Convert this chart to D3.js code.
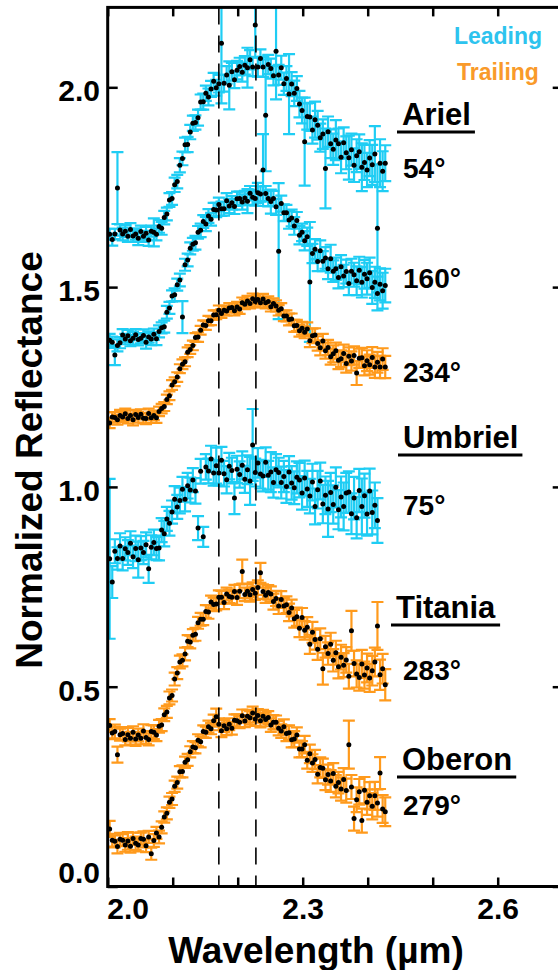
<!DOCTYPE html>
<html>
<head>
<meta charset="utf-8">
<title>Uranian moons 2.2 µm band</title>
<script src="https://cdn.jsdelivr.net/npm/d3@7"></script>
<style>
  body { margin: 0; background: #fff; }
  svg text { font-family: "Liberation Sans", Arial, sans-serif; font-weight: bold; }
</style>
</head>
<body>
<div id="chart"></div>
<script>
// wavelength grid (µm), shared by every spectrum
const wavelength = [
  2.003,2.007,2.011,2.015,2.019,2.023,2.027,2.031,2.035,2.039,
  2.043,2.047,2.051,2.055,2.059,2.063,2.067,2.071,2.075,2.079,
  2.083,2.087,2.091,2.095,2.099,2.103,2.107,2.111,2.115,2.119,
  2.123,2.127,2.131,2.135,2.139,2.143,2.147,2.151,2.155,2.159,
  2.163,2.167,2.171,2.175,2.179,2.183,2.187,2.191,2.195,2.199,
  2.203,2.207,2.211,2.215,2.219,2.223,2.227,2.231,2.235,2.239,
  2.243,2.247,2.251,2.255,2.259,2.263,2.267,2.271,2.275,2.279,
  2.283,2.287,2.291,2.295,2.299,2.303,2.307,2.311,2.315,2.319,
  2.323,2.327,2.331,2.335,2.339,2.343,2.347,2.351,2.355,2.359,
  2.363,2.367,2.371,2.375,2.379,2.383,2.387,2.391,2.395,2.399,
  2.403,2.407,2.411,2.415,2.419,2.423,2.427
];

// Ariel, 54° (leading)
const ariel54 = [
  1.632,1.619,1.633,1.748,1.643,1.633,1.640,1.627,1.644,1.628,
  1.633,1.622,1.639,1.627,1.635,1.618,1.640,1.637,1.632,1.652,
  1.647,1.674,1.683,1.718,1.722,1.756,1.764,1.805,1.822,1.856,
  1.857,1.888,1.910,1.912,1.924,1.963,1.964,1.985,1.976,1.996,
  2.015,1.999,2.009,2.110,2.010,2.031,2.005,2.039,2.019,2.043,
  2.052,2.038,2.055,2.049,2.069,2.051,2.156,2.051,2.072,2.051,
  1.930,2.057,2.047,2.029,2.090,2.031,2.049,2.009,2.022,1.983,
  2.008,1.985,1.997,1.958,1.942,1.864,1.927,1.926,1.893,1.919,
  1.905,1.874,1.883,1.797,1.889,1.859,1.845,1.868,1.859,1.825,
  1.861,1.836,1.824,1.844,1.805,1.829,1.839,1.800,1.812,1.793,
  1.823,1.806,1.833,1.647,1.810,1.790,1.810
];
const ariel54Err = [
  .014,.015,.013,.090,.014,.016,.015,.014,.016,.015,
  .014,.017,.015,.014,.016,.015,.014,.035,.015,.016,
  .016,.017,.016,.017,.016,.018,.017,.018,.017,.018,
  .019,.018,.019,.018,.020,.019,.020,.019,.021,.020,
  .021,.020,.022,.150,.021,.022,.060,.022,.021,.023,
  .022,.024,.023,.050,.024,.023,.080,.024,.023,.025,
  .140,.024,.025,.024,.120,.025,.030,.028,.031,.100,
  .030,.032,.031,.033,.032,.110,.033,.035,.034,.045,
  .036,.035,.037,.100,.038,.036,.039,.050,.038,.040,
  .039,.041,.055,.040,.042,.041,.043,.060,.044,.043,
  .045,.050,.070,.160,.060,.050,.045
];

// Ariel, 160° (leading)
const ariel160 = [
  1.367,1.362,1.330,1.354,1.361,1.380,1.370,1.378,1.366,1.372,
  1.381,1.369,1.372,1.379,1.362,1.375,1.370,1.382,1.371,1.389,
  1.398,1.401,1.437,1.448,1.478,1.481,1.506,1.518,1.425,1.556,
  1.568,1.597,1.607,1.611,1.637,1.642,1.664,1.658,1.678,1.670,
  1.694,1.693,1.707,1.696,1.696,1.716,1.703,1.711,1.702,1.721,
  1.722,1.713,1.723,1.715,1.735,1.725,1.722,1.736,1.733,1.793,
  1.734,1.722,1.714,1.722,1.701,1.590,1.709,1.686,1.686,1.668,
  1.673,1.653,1.667,1.630,1.637,1.616,1.626,1.513,1.584,1.595,
  1.564,1.591,1.565,1.573,1.546,1.571,1.540,1.546,1.524,1.551,
  1.528,1.539,1.509,1.540,1.531,1.516,1.542,1.512,1.532,1.521,
  1.536,1.499,1.512,1.484,1.507,1.491,1.504
];
const ariel160Err = [
  .016,.014,.025,.015,.014,.015,.013,.015,.014,.016,
  .014,.015,.013,.015,.016,.014,.015,.014,.016,.015,
  .014,.015,.016,.015,.014,.016,.015,.016,.040,.015,
  .016,.015,.016,.017,.016,.017,.016,.018,.017,.016,
  .017,.018,.017,.018,.017,.019,.018,.017,.019,.018,
  .017,.019,.018,.030,.018,.019,.018,.025,.019,.090,
  .019,.020,.030,.019,.020,.170,.020,.021,.020,.022,
  .021,.022,.021,.023,.022,.024,.023,.150,.024,.025,
  .024,.026,.025,.027,.026,.035,.027,.028,.027,.029,
  .028,.030,.029,.031,.030,.036,.034,.038,.036,.040,
  .038,.041,.039,.042,.040,.045,.042
];

// Ariel, 234° (trailing)
const ariel234 = [
  1.160,1.175,1.174,1.168,1.179,1.175,1.183,1.171,1.179,1.168,
  1.181,1.174,1.182,1.172,1.171,1.184,1.173,1.179,1.173,1.189,
  1.196,1.201,1.219,1.228,1.255,1.263,1.275,1.296,1.307,1.313,
  1.337,1.344,1.354,1.374,1.375,1.392,1.405,1.404,1.416,1.416,
  1.430,1.431,1.442,1.434,1.442,1.440,1.448,1.449,1.441,1.450,
  1.445,1.461,1.457,1.465,1.459,1.471,1.464,1.469,1.461,1.470,
  1.461,1.464,1.451,1.459,1.453,1.442,1.446,1.428,1.428,1.419,
  1.420,1.403,1.404,1.391,1.397,1.387,1.395,1.366,1.378,1.380,
  1.359,1.348,1.365,1.341,1.349,1.326,1.333,1.341,1.317,1.321,
  1.334,1.309,1.327,1.315,1.329,1.285,1.322,1.323,1.303,1.316,
  1.306,1.324,1.300,1.312,1.300,1.320,1.300
];
const ariel234Err = [
  .013,.012,.013,.012,.014,.012,.013,.012,.013,.014,
  .012,.013,.012,.013,.014,.012,.013,.012,.013,.012,
  .012,.011,.012,.011,.012,.011,.012,.011,.012,.011,
  .012,.011,.012,.011,.012,.011,.012,.011,.012,.011,
  .012,.011,.012,.011,.012,.011,.012,.011,.012,.013,
  .012,.013,.012,.013,.012,.013,.014,.013,.012,.013,
  .014,.013,.012,.013,.014,.013,.014,.013,.014,.015,
  .014,.015,.014,.015,.016,.015,.017,.016,.018,.017,
  .018,.019,.018,.020,.019,.020,.021,.020,.022,.021,
  .022,.023,.022,.024,.023,.030,.024,.025,.024,.026,
  .025,.026,.027,.026,.028,.027,.028
];

// Umbriel, 75° (leading)
const umbriel75 = [
  0.820,0.762,0.839,0.821,0.852,0.821,0.845,0.836,0.859,0.825,
  0.846,0.818,0.847,0.836,0.855,0.795,0.849,0.861,0.846,0.847,
  0.892,0.883,0.920,0.909,0.937,0.969,0.950,0.966,0.994,0.969,
  1.003,0.992,1.017,0.990,0.897,1.039,0.875,1.050,1.040,1.070,
  1.035,1.053,1.035,1.067,1.033,1.018,1.052,1.041,0.972,1.044,
  1.031,1.054,1.019,1.043,1.015,1.105,1.036,1.060,1.032,1.027,
  1.062,1.029,1.037,1.011,1.043,1.036,1.011,1.026,1.001,1.037,
  1.010,0.998,1.024,1.017,0.985,1.022,0.995,0.977,1.012,0.951,
  0.993,1.015,0.957,0.979,0.945,0.986,0.956,0.999,0.943,0.975,
  0.951,0.985,0.987,0.933,0.972,0.923,0.991,0.951,0.978,0.932,
  0.990,0.936,0.954,0.916
];
const umbriel75Err = [
  .200,.040,.030,.028,.032,.030,.029,.031,.030,.028,
  .032,.045,.030,.029,.031,.035,.030,.032,.029,.031,
  .030,.032,.030,.031,.029,.033,.030,.032,.031,.030,
  .032,.031,.030,.032,.030,.031,.025,.032,.031,.033,
  .032,.045,.031,.033,.032,.034,.033,.032,.040,.034,
  .033,.035,.034,.036,.060,.090,.035,.037,.036,.038,
  .037,.036,.050,.038,.039,.037,.040,.039,.041,.040,
  .042,.041,.040,.043,.042,.044,.045,.043,.046,.045,
  .047,.046,.048,.047,.070,.049,.048,.050,.049,.051,
  .060,.050,.052,.051,.053,.052,.054,.070,.055,.054,
  .056,.055,.057,.056
];

// Titania, 283° (trailing)
const titania283 = [
  0.403,0.384,0.388,0.330,0.380,0.383,0.368,0.380,0.371,0.386,
  0.369,0.379,0.371,0.389,0.373,0.368,0.388,0.386,0.379,0.401,
  0.404,0.430,0.437,0.472,0.478,0.519,0.534,0.562,0.566,0.582,
  0.614,0.612,0.629,0.631,0.660,0.669,0.669,0.688,0.687,0.712,
  0.706,0.707,0.724,0.724,0.711,0.732,0.726,0.724,0.738,0.723,
  0.739,0.788,0.731,0.739,0.730,0.743,0.734,0.748,0.785,0.738,
  0.729,0.736,0.732,0.713,0.721,0.702,0.718,0.702,0.705,0.686,
  0.697,0.670,0.675,0.646,0.673,0.641,0.649,0.606,0.636,0.618,
  0.594,0.620,0.545,0.600,0.583,0.606,0.566,0.585,0.550,0.574,
  0.554,0.567,0.526,0.640,0.558,0.532,0.523,0.557,0.529,0.547,
  0.522,0.540,0.562,0.652,0.530,0.545,0.505
];
const titania283Err = [
  .016,.015,.017,.020,.015,.016,.015,.017,.016,.015,
  .017,.016,.015,.017,.016,.015,.016,.017,.015,.016,
  .015,.016,.015,.016,.015,.016,.015,.016,.015,.016,
  .015,.016,.015,.016,.015,.016,.015,.016,.017,.016,
  .017,.016,.017,.016,.017,.016,.017,.016,.017,.018,
  .017,.030,.017,.018,.017,.018,.017,.018,.025,.018,
  .019,.018,.019,.020,.019,.020,.021,.020,.021,.022,
  .021,.022,.023,.022,.024,.023,.025,.024,.026,.025,
  .027,.026,.040,.027,.028,.029,.028,.030,.029,.031,
  .030,.032,.031,.050,.032,.034,.033,.035,.034,.036,
  .035,.037,.036,.060,.038,.037,.039
];

// Oberon, 279° (trailing)
const oberon279 = [
  0.144,0.116,0.113,0.100,0.118,0.116,0.104,0.114,0.101,0.120,
  0.108,0.104,0.120,0.118,0.102,0.124,0.082,0.115,0.134,0.124,
  0.148,0.174,0.183,0.211,0.219,0.251,0.260,0.287,0.288,0.311,
  0.317,0.337,0.349,0.347,0.366,0.362,0.388,0.386,0.400,0.395,
  0.415,0.425,0.406,0.390,0.402,0.395,0.406,0.396,0.416,0.415,
  0.411,0.427,0.414,0.426,0.422,0.434,0.419,0.428,0.415,0.426,
  0.418,0.423,0.404,0.411,0.411,0.396,0.389,0.400,0.383,0.385,
  0.367,0.369,0.379,0.344,0.344,0.355,0.316,0.332,0.309,0.318,
  0.281,0.298,0.296,0.267,0.280,0.264,0.283,0.251,0.260,0.244,
  0.268,0.240,0.355,0.249,0.170,0.217,0.237,0.165,0.241,0.211,
  0.227,0.201,0.227,0.209,0.284,0.194,0.187
];
const oberon279Err = [
  .020,.016,.015,.017,.016,.015,.017,.022,.016,.015,
  .017,.016,.015,.020,.016,.015,.015,.016,.015,.016,
  .015,.014,.015,.014,.015,.014,.015,.014,.015,.014,
  .015,.014,.015,.014,.015,.014,.015,.014,.015,.014,
  .015,.020,.015,.016,.015,.016,.015,.016,.015,.016,
  .015,.016,.015,.016,.017,.016,.017,.016,.017,.016,
  .017,.016,.017,.018,.017,.018,.017,.018,.019,.018,
  .019,.020,.019,.021,.020,.022,.021,.023,.022,.024,
  .023,.025,.024,.026,.025,.027,.026,.028,.027,.029,
  .028,.030,.060,.030,.030,.031,.032,.030,.033,.032,
  .034,.033,.035,.034,.040,.035,.036
];

const xTicks = [2.0, 2.1, 2.2, 2.3, 2.4, 2.5, 2.6, 2.7];
const xTickLabels = [2.0, 2.3, 2.6];
const yTicks = [0.0, 0.5, 1.0, 1.5, 2.0];
const bandCentres = [2.171, 2.228];

const moonNames = ["Ariel", "Umbriel", "Titania", "Oberon"];
const longitudeLabels = ["54°", "160°", "234°", "75°", "283°", "279°"];
const legendLabels = ["Leading", "Trailing"];

const spectra = [
  { side: "leading",  values: ariel54,    errors: ariel54Err },
  { side: "leading",  values: ariel160,   errors: ariel160Err },
  { side: "trailing", values: ariel234,   errors: ariel234Err },
  { side: "leading",  values: umbriel75,  errors: umbriel75Err },
  { side: "trailing", values: titania283, errors: titania283Err },
  { side: "trailing", values: oberon279,  errors: oberon279Err }
];

class SpectraChart {
  constructor(_config, _spectra) {
    this.config = {
      parentElement: _config.parentElement,
      containerWidth: _config.containerWidth || 558,
      containerHeight: _config.containerHeight || 970,
      plot: _config.plot || { left: 107.7, right: 562.7, top: 7.4, bottom: 886.5 },
      colors: { leading: "#1fcdf4", trailing: "#ff9a1c" },
      legendColors: { leading: "#2dc3ee", trailing: "#f99a2a" },
      capHalf: 6,
      dotRadius: 2.5
    };
    this.spectra = _spectra;
    this.initVis();
  }

  initVis() {
    let vis = this;
    const p = vis.config.plot;

    vis.svg = d3.select(vis.config.parentElement)
      .append("svg")
      .attr("width", vis.config.containerWidth)
      .attr("height", vis.config.containerHeight);

    vis.x = d3.scaleLinear().domain([2.0, 2.7]).range([p.left, p.right]);
    vis.y = d3.scaleLinear().domain([0, 2.2]).range([p.bottom, p.top]);

    vis.svg.append("defs").append("clipPath")
      .attr("id", "plot-clip")
      .append("rect")
      .attr("x", p.left)
      .attr("y", p.top)
      .attr("width", p.right - p.left)
      .attr("height", p.bottom - p.top);

    vis.chart = vis.svg.append("g").attr("clip-path", "url(#plot-clip)");

    // flatten spectra into points
    vis.points = vis.spectra.flatMap(s =>
      s.values.map((v, i) => ({ w: wavelength[i], v: v, e: s.errors[i], side: s.side }))
    );

    vis.renderVis();
  }

  renderVis() {
    let vis = this;
    const p = vis.config.plot;
    const c = vis.config.capHalf;

    // error bars
    vis.chart.append("g")
      .selectAll("path.err")
      .data(vis.points)
      .join("path")
      .attr("class", "err")
      .attr("fill", "none")
      .attr("stroke", d => vis.config.colors[d.side])
      .attr("stroke-width", 2.2)
      .attr("d", d => {
        const x0 = vis.x(d.w), y1 = vis.y(d.v + d.e), y2 = vis.y(d.v - d.e);
        return `M${x0 - c},${y1}H${x0 + c}M${x0},${y1}V${y2}M${x0 - c},${y2}H${x0 + c}`;
      });

    // data points
    vis.chart.append("g")
      .selectAll("circle.pt")
      .data(vis.points)
      .join("circle")
      .attr("class", "pt")
      .attr("cx", d => vis.x(d.w))
      .attr("cy", d => vis.y(d.v))
      .attr("r", vis.config.dotRadius)
      .attr("fill", "#000");

    // dashed band markers
    vis.chart.selectAll("line.band")
      .data(bandCentres)
      .join("line")
      .attr("class", "band")
      .attr("x1", d => vis.x(d))
      .attr("x2", d => vis.x(d))
      .attr("y1", p.top)
      .attr("y2", p.bottom)
      .attr("stroke", "#000")
      .attr("stroke-width", 1.6)
      .attr("stroke-dasharray", "17,11");

    // axes
    const styleAxis = g => {
      g.select(".domain").remove();
      g.selectAll(".tick line").attr("stroke", "#000").attr("stroke-width", 2.5);
      g.selectAll(".tick text")
        .attr("fill", "#000")
        .attr("font-size", 30)
        .attr("font-weight", "bold")
        .attr("font-family", "'Liberation Sans', Arial, sans-serif");
    };

    vis.svg.append("g")
      .attr("transform", `translate(0,${p.bottom})`)
      .call(d3.axisBottom(vis.x).tickValues(xTicks).tickSize(-9).tickPadding(11.5)
        .tickFormat(d => xTickLabels.includes(d) ? d.toFixed(1) : ""))
      .call(styleAxis)
      .call(g => g.selectAll(".tick text").filter(d => d === 2.0).attr("x", 20));

    vis.svg.append("g")
      .attr("transform", `translate(0,${p.top})`)
      .call(d3.axisTop(vis.x).tickValues(xTicks).tickSize(-9).tickFormat(""))
      .call(styleAxis);

    vis.svg.append("g")
      .attr("transform", `translate(${p.left},0)`)
      .call(d3.axisLeft(vis.y).tickValues(yTicks).tickSize(-10).tickPadding(7.7)
        .tickFormat(d3.format(".1f")))
      .call(styleAxis)
      .call(g => g.selectAll(".tick text").attr("dy", d => d === 0 ? "-0.15em" : "0.45em"));

    vis.svg.append("g")
      .attr("transform", `translate(${p.right},0)`)
      .call(d3.axisRight(vis.y).tickValues(yTicks).tickSize(-10).tickFormat(""))
      .call(styleAxis);

    vis.svg.append("rect")
      .attr("x", p.left)
      .attr("y", p.top)
      .attr("width", p.right - p.left)
      .attr("height", p.bottom - p.top)
      .attr("fill", "none")
      .attr("stroke", "#000")
      .attr("stroke-width", 3);

    // axis titles
    vis.svg.append("text")
      .attr("x", 316)
      .attr("y", 963)
      .attr("text-anchor", "middle")
      .attr("font-size", 37)
      .text("Wavelength (µm)");

    vis.svg.append("text")
      .attr("transform", "translate(42,460) rotate(-90)")
      .attr("text-anchor", "middle")
      .attr("font-size", 37)
      .text("Normalized Reflectance");

    // legend
    const legendY = [44, 80];
    vis.svg.selectAll("text.legend")
      .data(legendLabels)
      .join("text")
      .attr("class", "legend")
      .attr("x", 498)
      .attr("y", (d, i) => legendY[i])
      .attr("text-anchor", "middle")
      .attr("font-size", 23)
      .attr("fill", (d, i) => i === 0 ? vis.config.legendColors.leading : vis.config.legendColors.trailing)
      .text(d => d);

    // moon names, underlined
    const nameX = [402, 403, 396, 402];
    const nameY = [125, 448, 618, 770];
    vis.svg.selectAll("text.moon")
      .data(moonNames)
      .join("text")
      .attr("class", "moon")
      .attr("x", (d, i) => nameX[i])
      .attr("y", (d, i) => nameY[i])
      .attr("font-size", 31)
      .text(d => d)
      .each(function(d, i) {
        const bb = this.getBBox();
        vis.svg.append("line")
          .attr("x1", bb.x - 5)
          .attr("x2", bb.x + bb.width + 4)
          .attr("y1", nameY[i] + 7)
          .attr("y2", nameY[i] + 7)
          .attr("stroke", "#000")
          .attr("stroke-width", 3);
      });

    // sub-observer longitudes
    const lonY = [178, 288, 382, 515, 680, 815];
    vis.svg.selectAll("text.lon")
      .data(longitudeLabels)
      .join("text")
      .attr("class", "lon")
      .attr("x", 403)
      .attr("y", (d, i) => lonY[i])
      .attr("font-size", 28)
      .text(d => d);
  }
}

new SpectraChart({ parentElement: "#chart" }, spectra);
</script>
</body>
</html>
